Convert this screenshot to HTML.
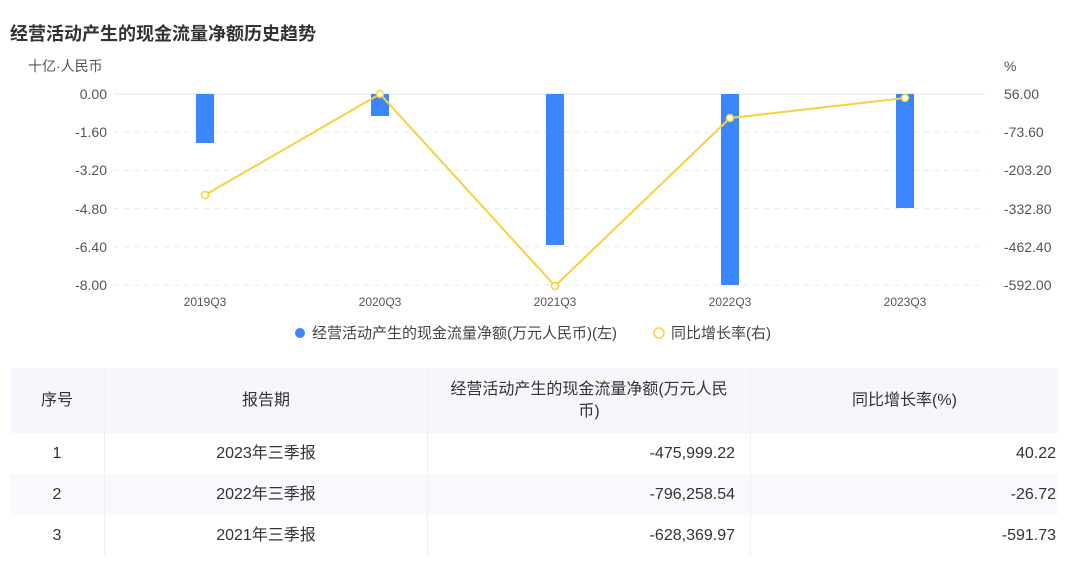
<!DOCTYPE html><html><head><meta charset="utf-8"><style>
body{margin:0;width:1080px;height:561px;background:#fff;font-family:"Liberation Sans","Noto Sans CJK SC",sans-serif;overflow:hidden;position:relative}
.t{position:absolute;left:10px;top:20px;font-size:18px;font-weight:bold;color:#333}
table{position:absolute;left:10px;top:368px;width:1048px;border-collapse:collapse;font-size:16px;color:#333}
td{border-right:1px solid #eef0f5;padding:0 2px;vertical-align:middle;line-height:22px}
td:last-child{border-right:none}
tr.h{height:65px;background:#f5f7fc;text-align:center}
tr.r{height:41px}
tr.a{background:#f8f9fd}
.c{text-align:center}.rt{text-align:right;padding-right:15px}
td:last-child.rt{padding-right:2px}
</style></head><body>
<div class="t">经营活动产生的现金流量净额历史趋势</div>
<svg width="1080" height="360" style="position:absolute;left:0;top:0" font-family="Liberation Sans,Noto Sans CJK SC,sans-serif">
<text x="28" y="71" font-size="14" fill="#555">十亿·人民币</text>
<text x="1004" y="71" font-size="14" fill="#555">%</text>
<g stroke="#e6e9f0" stroke-dasharray="5,5">
<line x1="114" x2="985" y1="132.2" y2="132.2"/><line x1="114" x2="985" y1="170.4" y2="170.4"/><line x1="114" x2="985" y1="208.6" y2="208.6"/><line x1="114" x2="985" y1="246.8" y2="246.8"/><line x1="114" x2="985" y1="285" y2="285"/></g>
<line x1="114" x2="985" y1="94" y2="94" stroke="#e0e6f0"/>
<g font-size="14" fill="#555" text-anchor="end">
<text x="107" y="99">0.00</text><text x="107" y="137">-1.60</text><text x="107" y="175">-3.20</text><text x="107" y="214">-4.80</text><text x="107" y="252">-6.40</text><text x="107" y="290">-8.00</text></g>
<g font-size="14" fill="#555">
<text x="1004" y="99">56.00</text><text x="1004" y="137">-73.60</text><text x="1004" y="175">-203.20</text><text x="1004" y="214">-332.80</text><text x="1004" y="252">-462.40</text><text x="1004" y="290">-592.00</text></g>
<g font-size="12" fill="#555" text-anchor="middle">
<text x="205" y="306">2019Q3</text><text x="380" y="306">2020Q3</text><text x="555" y="306">2021Q3</text><text x="730" y="306">2022Q3</text><text x="905" y="306">2023Q3</text></g>
<g fill="#3a86ff">
<rect x="196" y="94" width="18" height="49"/><rect x="371" y="94" width="18" height="22"/><rect x="546" y="94" width="18" height="151"/><rect x="721" y="94" width="18" height="191"/><rect x="896" y="94" width="18" height="114"/></g>
<polyline points="205,195 380,94 555,286 730,118 905,98" fill="none" stroke="#f7d13d" stroke-width="2"/>
<g fill="#fff" stroke="#f7d13d" stroke-width="1.5">
<circle cx="205" cy="195" r="3.5"/><circle cx="380" cy="94" r="3.5"/><circle cx="555" cy="286" r="3.5"/><circle cx="730" cy="118" r="3.5"/><circle cx="905" cy="98" r="3.5"/></g>
<circle cx="300" cy="333" r="5" fill="#3a86ff"/>
<text x="312" y="338" font-size="15" fill="#444">经营活动产生的现金流量净额(万元人民币)(左)</text>
<circle cx="659" cy="333" r="5" fill="#fff" stroke="#f7d13d" stroke-width="1.5"/>
<text x="671" y="338" font-size="15" fill="#444">同比增长率(右)</text>
</svg>
<table>
<tr class="h"><td style="width:90px">序号</td><td style="width:318px">报告期</td><td style="width:318px">经营活动产生的现金流量净额(万元人民<br>币)</td><td>同比增长率(%)</td></tr>
<tr class="r"><td class="c">1</td><td class="c">2023年三季报</td><td class="rt">-475,999.22</td><td class="rt">40.22</td></tr>
<tr class="r a"><td class="c">2</td><td class="c">2022年三季报</td><td class="rt">-796,258.54</td><td class="rt">-26.72</td></tr>
<tr class="r"><td class="c">3</td><td class="c">2021年三季报</td><td class="rt">-628,369.97</td><td class="rt">-591.73</td></tr>
</table>
</body></html>
